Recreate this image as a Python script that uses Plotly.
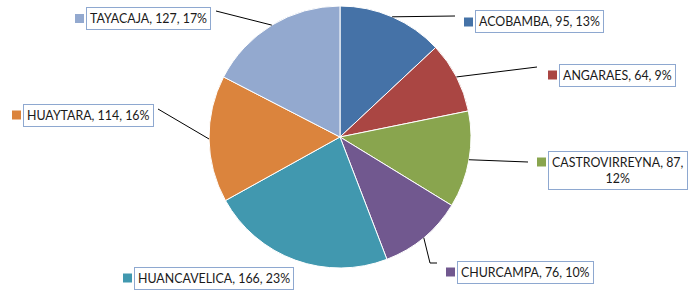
import math
import plotly.graph_objects as go

# ---- data ----
names = ["ACOBAMBA", "ANGARAES", "CASTROVIRREYNA", "CHURCAMPA",
         "HUANCAVELICA", "HUAYTARA", "TAYACAJA"]
values = [95, 64, 87, 76, 166, 114, 127]
colors = ["#4572A7", "#AA4643", "#89A54E", "#71588F",
          "#4198AF", "#DB843D", "#93A9CF"]

# ---- layout (pixels) ----
W, H = 688, 292
cx, cy, R = 340, 137, 131
# box left x, box centre y, leader-line label-side points (None = no line)
box_left = [475, 559, 548, 457, 134, 23, 86]
box_cy = [22, 75, 170, 272, 278, 115, 18.5]
leader = [
    [(455, 16)],
    [(537, 67)],
    [(528, 162)],
    [(430, 263), (437, 263)],
    None,
    [(158, 109)],
    [(216, 11)],
]
line_breaks = {2: "87,"}

def px(x):
    return x / W

def py(y):
    return 1 - y / H

total = sum(values)
fig = go.Figure(go.Pie(
    labels=names, values=values, sort=False, direction="clockwise",
    rotation=0, textinfo="none", showlegend=False,
    marker=dict(colors=colors, line=dict(color="white", width=1)),
    domain=dict(x=[px(cx - R), px(cx + R)], y=[py(cy + R), py(cy - R)]),
))

shapes = []
annotations = []
cum = 0
for i, (n, v) in enumerate(zip(names, values)):
    mid = (cum + v / 2) / total * 2 * math.pi
    cum += v
    ex, ey = cx + R * math.sin(mid), cy - R * math.cos(mid)
    if leader[i]:
        pts = [(ex, ey)] + leader[i]
        for (x0, y0), (x1, y1) in zip(pts[:-1], pts[1:]):
            shapes.append(dict(type="line", xref="paper", yref="paper",
                               x0=px(x0), y0=py(y0), x1=px(x1), y1=py(y1),
                               line=dict(color="black", width=1)))
    pct = round(100 * v / total)
    txt = f"{n}, {v}, {pct}%"
    if i in line_breaks:
        k = line_breaks[i]
        txt = txt.replace(k + " ", k + "<br>", 1)
    bl = box_left[i]
    dy = -8 if i in line_breaks else 0
    shapes.append(dict(type="rect", xref="paper", yref="paper",
                       x0=px(bl - 11), x1=px(bl - 2),
                       y0=py(box_cy[i] - 4.5 + dy),
                       y1=py(box_cy[i] + 4.5 + dy),
                       fillcolor=colors[i], line=dict(width=0)))
    annotations.append(dict(
        text=txt, xref="paper", yref="paper", x=px(bl), y=py(box_cy[i]),
        xanchor="left", yanchor="middle", showarrow=False,
        bordercolor="#8EA8D0", borderwidth=1, borderpad=3,
        bgcolor="white", align="center",
        font=dict(family="Lato", size=12.4, color="#1a1a1a")))

fig.update_layout(width=W, height=H, margin=dict(l=0, r=0, t=0, b=0),
                  paper_bgcolor="white", plot_bgcolor="white",
                  shapes=shapes, annotations=annotations)
fig.write_html("out.html", config={"displayModeBar": False},
               post_script="document.body.style.margin='0';document.body.style.overflow='hidden';")
